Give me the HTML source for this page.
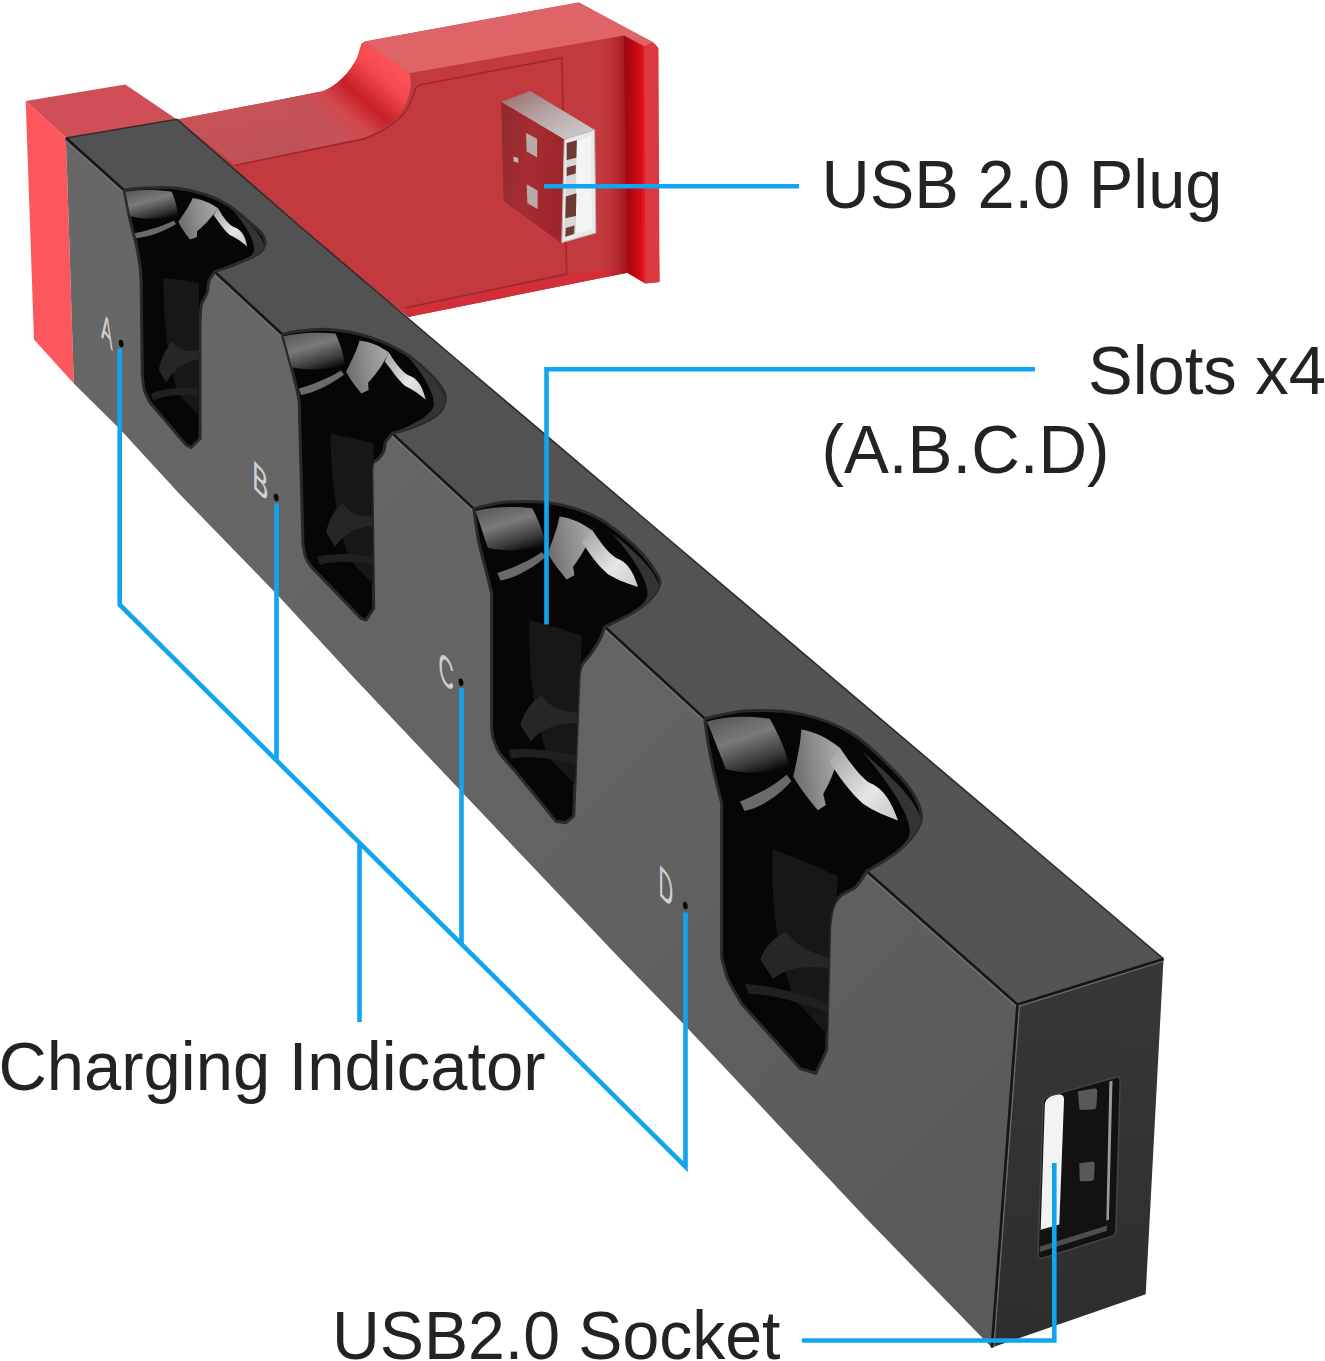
<!DOCTYPE html>
<html lang="en"><head><meta charset="utf-8"><title>4-slot charging dock diagram</title>
<style>
html,body{margin:0;padding:0;background:#fff;}
body{width:1325px;height:1361px;overflow:hidden;}
svg{display:block;}
</style></head>
<body>
<svg width="1325" height="1361" viewBox="0 0 1325 1361">
<rect width="1325" height="1361" fill="#fff"/>
<defs>
<linearGradient id="gFront" gradientUnits="userSpaceOnUse" x1="66" y1="250" x2="1000" y2="1180">
 <stop offset="0" stop-color="#676767"/><stop offset="0.55" stop-color="#636363"/><stop offset="1" stop-color="#5a5a5a"/>
</linearGradient>
<linearGradient id="gTop" gradientUnits="userSpaceOnUse" x1="100" y1="130" x2="1100" y2="990">
 <stop offset="0" stop-color="#525252"/><stop offset="1" stop-color="#545454"/>
</linearGradient>
<linearGradient id="gEnd" gradientUnits="userSpaceOnUse" x1="1090" y1="980" x2="1070" y2="1320">
 <stop offset="0" stop-color="#373737"/><stop offset="1" stop-color="#2e2e2e"/>
</linearGradient>
<linearGradient id="gSaddle" gradientUnits="userSpaceOnUse" x1="330" y1="130" x2="400" y2="50">
 <stop offset="0" stop-color="#c45257"/><stop offset="0.22" stop-color="#d2484e"/><stop offset="0.42" stop-color="#c62026"/><stop offset="0.68" stop-color="#f5474e"/><stop offset="1" stop-color="#ff5c62"/>
</linearGradient>
<linearGradient id="gDome" x1="0.2" y1="0" x2="0.7" y2="1">
 <stop offset="0" stop-color="#5a5a5a"/><stop offset="0.4" stop-color="#7a7a7a"/><stop offset="0.8" stop-color="#3a3a3a"/><stop offset="1" stop-color="#0e0e0e"/>
</linearGradient>
<linearGradient id="gMid" x1="0" y1="0.5" x2="1" y2="0.3">
 <stop offset="0" stop-color="#6c6c6c"/><stop offset="0.5" stop-color="#8e8e8e"/><stop offset="1" stop-color="#a8a8a8"/>
</linearGradient>
<linearGradient id="gPlugSide" x1="0" y1="0" x2="1" y2="0.3">
 <stop offset="0" stop-color="#8e2a2d"/><stop offset="0.5" stop-color="#a62d31"/><stop offset="1" stop-color="#9c262a"/>
</linearGradient>
<linearGradient id="gPlugTop" x1="0" y1="0" x2="1" y2="1">
 <stop offset="0" stop-color="#9a6a6a"/><stop offset="0.5" stop-color="#b8a8a8"/><stop offset="1" stop-color="#d2d2d2"/>
</linearGradient>
<linearGradient id="gPlate" x1="0" y1="0" x2="1" y2="0">
 <stop offset="0" stop-color="#9c0810"/><stop offset="0.35" stop-color="#b20810"/><stop offset="0.8" stop-color="#da0c18"/><stop offset="1" stop-color="#e6222c"/>
</linearGradient>
<linearGradient id="gLow" gradientUnits="userSpaceOnUse" x1="250" y1="105" x2="262" y2="160">
 <stop offset="0" stop-color="#c85358"/><stop offset="1" stop-color="#bf5156"/>
</linearGradient>
<linearGradient id="gShade" gradientUnits="userSpaceOnUse" x1="600" y1="0" x2="627" y2="0">
 <stop offset="0" stop-color="#c2393e" stop-opacity="0"/><stop offset="1" stop-color="#a2121a"/>
</linearGradient>
<linearGradient id="gWhite" x1="0" y1="0" x2="1" y2="1">
 <stop offset="0" stop-color="#a0a0a0"/><stop offset="0.6" stop-color="#e6e6e6"/><stop offset="1" stop-color="#c8c8c8"/>
</linearGradient>
</defs>
<polygon points="177.0,119.6 323.0,91.3 336.6,84.5 347.9,73.2 357.0,58.5 361.5,43.8 364.9,41.5 578.9,2.4 656.0,44.9 659.5,282.0 645.3,283.4 627.2,272.8 408.0,317.0 300.0,230.0 177.0,119.6" fill="#c2393e"/>
<polygon points="177.0,119.6 323.0,91.3 363.8,137.7 234.7,164.9" fill="url(#gLow)"/>
<path d="M323,91.3 C336,86 350,72 357,58.5 C360,50 361,45 364.9,41.5 L409.1,73.2 C412,80 411,92 406.8,101.5 C401,116 390,127 363.8,137.7 L310,149 L280,100 Z" fill="url(#gSaddle)"/>
<polygon points="364.9,41.5 578.9,2.4 653.0,42.0 644.5,46.5 623.8,35.5 409.1,73.2" fill="#de6468"/>
<path d="M234.7,165.5 L363.8,138.9 C386,131 401,119 409.1,106 C413,97 414,92 414.7,90.2 C416,86 419,85 422.6,84.5 L561.9,57.7 L566.7,274.1 L405.7,307.9" fill="none" stroke="#a3272f" stroke-width="1.6" stroke-linejoin="round"/>
<polygon points="405.7,309.5 566.7,275.6 627.0,264.5 627.2,272.8 408.0,317.0" fill="#d22f38"/>
<polygon points="600.0,40.0 624.5,35.5 627.2,272.8 600.0,278.5" fill="url(#gShade)"/>
<polygon points="623.8,35.5 644.5,46.5 645.3,283.4 627.2,272.8" fill="url(#gPlate)"/>
<polygon points="644.5,46.5 653.0,42.0 658.5,48.0 659.5,282.0 645.3,283.4" fill="#dc383f"/>
<polygon points="25.7,101.1 125.3,84.5 177.0,119.6 66.0,138.0" fill="#d04e55"/>
<polygon points="25.7,101.1 66.0,138.0 73.8,383.4 34.0,339.5" fill="#fd565d"/>
<polygon points="501.2,101.9 530.3,91.0 594.6,129.8 564.3,139.5" fill="url(#gPlugTop)"/>
<polygon points="501.2,101.9 564.3,139.5 560.7,242.6 503.7,201.3" fill="url(#gPlugSide)"/>
<polygon points="564.3,139.5 594.6,129.8 595.8,232.9 561.9,242.6" fill="#e9e9e9" stroke="#b9b9b9" stroke-width="1"/>
<polygon points="566.7,143.1 591.0,135.8 592.2,229.2 564.8,237.2" fill="#d8d6d6"/>
<polygon points="576.4,140.7 591.0,135.8 592.2,229.2 575.9,234.1" fill="#f4f4f4"/>
<polygon points="566.7,143.1 576.9,140.2 576.4,157.7 566.7,160.1" fill="#6e3a33"/>
<polygon points="566.7,167.4 575.9,164.9 575.7,173.4 566.7,175.9" fill="#6e3a33"/>
<polygon points="565.8,196.5 576.4,193.3 575.9,215.9 565.3,218.3" fill="#6e3a33"/>
<polygon points="565.8,228.0 574.5,225.6 574.0,234.1 565.3,236.7" fill="#6e3a33"/>
<polygon points="526.0,132.9 537.1,138.7 537.1,157.2 526.7,151.6" fill="#b9a9a8"/>
<polygon points="526.7,184.3 537.6,190.4 537.6,209.1 527.4,203.3" fill="#b9a9a8"/>
<polygon points="513.4,156.5 518.2,158.1 518.2,163.0 513.6,161.3" fill="#c9b5b4"/>
<polygon points="66.0,138.0 177.0,119.3 300.0,226.5 460.0,362.5 640.0,515.0 1023.4,840.0 1163.5,958.9 1017.5,1004.5 1012.5,1044.5 68.0,178.0" fill="url(#gTop)"/>
<polyline points="66.0,138.0 177.0,119.3 300.0,226.5 460.0,362.5 640.0,515.0 1023.4,840.0 1163.5,958.9" fill="none" stroke="#2e2e2e" stroke-width="1.6"/>
<polygon points="66.0,138.0 124.2,190.2 214.7,271.7 282.2,334.3 392.3,433.4 473.7,508.6 604.8,626.8 704.8,718.6 866.7,871.3 1017.5,1004.5 991.8,1347.6 867.2,1219.5 685.5,1026.0 620.8,959.5 461.1,791.3 355.1,679.0 276.6,594.0 180.0,494.5 119.6,428.7 73.8,383.4" fill="url(#gFront)"/>
<polygon points="1017.5,1004.5 1163.5,958.9 1145.7,1294.2 991.8,1347.6" fill="url(#gEnd)"/>
<line x1="64.6" y1="139.6" x2="122.8" y2="191.8" stroke="#787878" stroke-width="1.5" stroke-opacity="0.8"/>
<line x1="66.0" y1="138.0" x2="124.2" y2="190.2" stroke="#161616" stroke-width="2.6"/>
<line x1="213.3" y1="273.3" x2="280.8" y2="335.9" stroke="#787878" stroke-width="1.5" stroke-opacity="0.8"/>
<line x1="214.7" y1="271.7" x2="282.2" y2="334.3" stroke="#161616" stroke-width="2.6"/>
<line x1="390.9" y1="435.0" x2="472.3" y2="510.2" stroke="#787878" stroke-width="1.5" stroke-opacity="0.8"/>
<line x1="392.3" y1="433.4" x2="473.7" y2="508.6" stroke="#161616" stroke-width="2.6"/>
<line x1="603.4" y1="628.4" x2="703.4" y2="720.2" stroke="#787878" stroke-width="1.5" stroke-opacity="0.8"/>
<line x1="604.8" y1="626.8" x2="704.8" y2="718.6" stroke="#161616" stroke-width="2.6"/>
<line x1="865.3" y1="872.9" x2="1016.1" y2="1006.1" stroke="#787878" stroke-width="1.5" stroke-opacity="0.8"/>
<line x1="866.7" y1="871.3" x2="1017.5" y2="1004.5" stroke="#161616" stroke-width="2.6"/>
<line x1="1018.1" y1="1006.5" x2="1164.1" y2="960.9" stroke="#787878" stroke-width="1.5" stroke-opacity="0.8"/>
<line x1="1017.5" y1="1004.5" x2="1163.5" y2="958.9" stroke="#161616" stroke-width="2.6"/>
<line x1="1019.5" y1="1004.7" x2="993.8" y2="1347.8" stroke="#787878" stroke-width="1.5" stroke-opacity="0.8"/>
<line x1="1017.5" y1="1004.5" x2="991.8" y2="1347.6" stroke="#161616" stroke-width="2.6"/>
<clipPath id="cs0"><path d="M124.2,190.2 C127.7,189.8 136.7,188.4 145.3,188.1 C153.8,187.7 165.4,187.0 175.5,188.1 C185.5,189.2 196.9,191.8 205.7,194.7 C214.5,197.6 220.8,200.5 228.3,205.3 C235.8,210.1 245.2,218.4 250.9,223.4 C256.7,228.4 260.7,231.9 263.0,235.5 C265.3,239.0 265.6,241.5 264.8,244.5 C264.1,247.5 263.3,250.3 258.5,253.6 C253.7,256.9 243.1,261.1 235.8,264.2 C228.6,267.2 218.2,270.4 214.7,271.7 C213.8,273.2 210.2,277.5 209.0,280.8 C207.8,284.0 208.3,288.3 207.5,291.3 C206.7,294.3 205.2,296.5 204.2,298.9 C203.1,301.3 201.8,301.1 201.1,305.7 C200.4,310.2 200.1,322.6 199.9,326.0 L200.1,438.5 L191.1,447.5 L186.0,444.9 L150.0,402.5 C149.0,400.4 145.6,394.4 144.3,389.6 C143.0,384.9 142.6,376.8 142.3,374.2 L141.1,280.8 C140.9,278.2 140.8,271.7 140.0,265.7 C139.2,259.6 137.9,252.1 136.2,244.5 C134.6,237.0 132.2,229.4 130.2,220.4 C128.2,211.3 125.2,195.2 124.2,190.2 Z"/></clipPath>
<path d="M124.2,190.2 C127.7,189.8 136.7,188.4 145.3,188.1 C153.8,187.7 165.4,187.0 175.5,188.1 C185.5,189.2 196.9,191.8 205.7,194.7 C214.5,197.6 220.8,200.5 228.3,205.3 C235.8,210.1 245.2,218.4 250.9,223.4 C256.7,228.4 260.7,231.9 263.0,235.5 C265.3,239.0 265.6,241.5 264.8,244.5 C264.1,247.5 263.3,250.3 258.5,253.6 C253.7,256.9 243.1,261.1 235.8,264.2 C228.6,267.2 218.2,270.4 214.7,271.7 C213.8,273.2 210.2,277.5 209.0,280.8 C207.8,284.0 208.3,288.3 207.5,291.3 C206.7,294.3 205.2,296.5 204.2,298.9 C203.1,301.3 201.8,301.1 201.1,305.7 C200.4,310.2 200.1,322.6 199.9,326.0 L200.1,438.5 L191.1,447.5 L186.0,444.9 L150.0,402.5 C149.0,400.4 145.6,394.4 144.3,389.6 C143.0,384.9 142.6,376.8 142.3,374.2 L141.1,280.8 C140.9,278.2 140.8,271.7 140.0,265.7 C139.2,259.6 137.9,252.1 136.2,244.5 C134.6,237.0 132.2,229.4 130.2,220.4 C128.2,211.3 125.2,195.2 124.2,190.2 Z" fill="#060606" stroke="#2a2a2a" stroke-width="3" stroke-linejoin="round"/>
<g clip-path="url(#cs0)">
<path d="M 163.4,277.9 C 163.6,320.8 166.8,356.1 177.8,393.0 L 197.8,414.5 L 199.2,283.3 L 184.3,280.2 Z" fill="#171717"/>
<path d="M 232.9,210.2 C 249.9,223.7 266.7,238.2 263.7,249.8 C 260.9,259.3 245.8,265.0 214.7,271.7 C 237.3,264.7 251.2,258.9 253.8,251.5 C 255.7,244.1 249.3,229.0 232.9,210.2 Z" fill="#343434"/>
<path d="M 125.3,191.8 C 137.6,189.7 155.9,189.4 171.7,191.7 C 175.5,200.3 177.7,208.9 177.4,215.8 C 165.1,219.3 146.8,220.2 130.4,216.3 C 128.5,207.9 127.4,200.4 125.3,191.8 Z" fill="url(#gDome)"/>
<path d="M 134.8,233.2 C 145.7,231.0 162.0,226.4 173.7,220.7 L 176.2,224.0 C 163.9,231.3 148.8,237.0 136.2,238.3 Z" fill="#6a6a6a"/>
<path d="M 192.8,197.9 C 202.4,199.3 210.5,202.9 217.6,208.1 C 214.2,214.7 206.0,224.0 197.0,231.3 L 197.0,236.9 L 190.1,239.5 C 184.5,232.6 180.3,226.1 178.3,221.7 C 184.0,213.5 189.6,205.2 192.8,197.9 Z" fill="url(#gMid)"/>
<path d="M 217.6,207.8 C 221.1,213.4 226.2,222.7 233.1,226.7 C 240.2,229.1 245.2,234.1 247.0,246.4 C 242.0,242.0 236.8,238.6 229.9,235.1 C 223.7,230.0 218.5,221.3 213.6,215.2 Z" fill="url(#gWhite)"/>
<path d="M 158.8,370.2 C 161.1,356.8 168.7,344.0 173.0,341.1 C 177.1,350.2 187.8,352.5 198.5,350.1 L 198.4,359.6 C 187.7,360.9 174.8,367.1 166.2,382.4 Z" fill="#262626"/>
<path d="M 151.1,393.7 C 168.2,387.0 185.3,387.4 198.1,388.3 L 198.0,395.4 C 183.1,394.8 168.2,394.1 153.2,400.6 Z" fill="#202020"/>
</g>
<clipPath id="cs1"><path d="M282.2,334.3 C284.7,333.8 290.2,332.1 297.2,331.3 C304.2,330.4 315.3,329.1 324.3,329.2 C333.4,329.4 342.5,330.4 351.5,332.2 C360.6,334.1 369.6,336.8 378.7,340.4 C387.7,344.0 397.9,349.0 405.9,354.0 C413.8,358.9 420.6,365.1 426.2,370.3 C431.9,375.5 436.6,380.9 439.8,385.2 C443.0,389.5 444.8,392.2 445.2,396.1 C445.7,399.9 444.6,404.7 442.5,408.3 C440.5,411.9 438.0,414.6 433.0,417.8 C428.0,421.0 419.4,424.7 412.6,427.3 C405.9,429.9 395.7,432.4 392.3,433.4 C391.1,434.9 386.8,439.4 385.5,442.3 C384.1,445.1 385.2,447.7 384.1,450.4 C383.0,453.1 380.5,456.5 378.7,458.6 C376.9,460.6 374.4,460.8 373.2,462.6 C372.1,464.5 372.1,468.3 371.9,469.4 L373.7,608.5 L366.0,620.1 L360.8,618.3 L310.7,566.1 C309.8,564.6 306.8,560.7 305.6,557.1 C304.3,553.4 303.4,546.4 303.0,544.2 L299.2,401.5 C298.9,399.7 298.2,395.2 297.2,390.6 C296.2,386.1 294.7,380.5 293.1,374.3 C291.5,368.2 289.5,360.6 287.7,354.0 C285.8,347.3 283.1,337.5 282.2,334.3 Z"/></clipPath>
<path d="M282.2,334.3 C284.7,333.8 290.2,332.1 297.2,331.3 C304.2,330.4 315.3,329.1 324.3,329.2 C333.4,329.4 342.5,330.4 351.5,332.2 C360.6,334.1 369.6,336.8 378.7,340.4 C387.7,344.0 397.9,349.0 405.9,354.0 C413.8,358.9 420.6,365.1 426.2,370.3 C431.9,375.5 436.6,380.9 439.8,385.2 C443.0,389.5 444.8,392.2 445.2,396.1 C445.7,399.9 444.6,404.7 442.5,408.3 C440.5,411.9 438.0,414.6 433.0,417.8 C428.0,421.0 419.4,424.7 412.6,427.3 C405.9,429.9 395.7,432.4 392.3,433.4 C391.1,434.9 386.8,439.4 385.5,442.3 C384.1,445.1 385.2,447.7 384.1,450.4 C383.0,453.1 380.5,456.5 378.7,458.6 C376.9,460.6 374.4,460.8 373.2,462.6 C372.1,464.5 372.1,468.3 371.9,469.4 L373.7,608.5 L366.0,620.1 L360.8,618.3 L310.7,566.1 C309.8,564.6 306.8,560.7 305.6,557.1 C304.3,553.4 303.4,546.4 303.0,544.2 L299.2,401.5 C298.9,399.7 298.2,395.2 297.2,390.6 C296.2,386.1 294.7,380.5 293.1,374.3 C291.5,368.2 289.5,360.6 287.7,354.0 C285.8,347.3 283.1,337.5 282.2,334.3 Z" fill="#060606" stroke="#2a2a2a" stroke-width="3" stroke-linejoin="round"/>
<g clip-path="url(#cs1)">
<path d="M 330.5,433.7 C 331.3,479.9 335.6,518.5 349.3,559.6 L 373.7,585.3 L 373.7,443.9 L 355.7,438.8 Z" fill="#171717"/>
<path d="M 405.8,354.0 C 426.2,370.3 446.6,387.9 444.6,402.9 C 442.5,415.1 426.3,423.2 392.3,433.4 C 416.7,423.2 431.7,415.1 433.7,405.6 C 435.1,396.1 426.2,377.1 405.8,354.0 Z" fill="#343434"/>
<path d="M 283.6,336.3 C 297.1,332.9 317.5,331.6 335.4,333.6 C 340.6,344.5 344.0,355.3 344.4,364.2 C 331.1,369.2 310.8,371.4 292.0,367.3 C 289.0,356.7 287.0,347.2 283.6,336.3 Z" fill="url(#gDome)"/>
<path d="M 298.8,388.6 C 310.8,385.2 328.4,378.4 340.9,370.5 L 344.0,374.6 C 331.1,384.5 314.8,392.7 301.0,395.0 Z" fill="#6a6a6a"/>
<path d="M 359.6,340.4 C 370.5,341.8 380.0,345.8 388.4,352.1 C 385.5,360.8 377.3,373.0 368.1,382.8 L 368.6,390.0 L 361.3,393.6 C 354.2,385.2 348.8,377.1 346.1,371.6 C 351.5,360.8 356.9,349.9 359.6,340.4 Z" fill="url(#gMid)"/>
<path d="M 388.4,351.8 C 392.9,358.7 399.7,370.3 407.9,375.0 C 416.0,377.7 422.1,383.9 425.6,399.5 C 419.4,394.0 413.3,390.0 405.2,385.9 C 397.7,379.8 390.9,368.9 384.8,361.5 Z" fill="url(#gWhite)"/>
<path d="M 326.1,532.6 C 328.7,518.5 337.7,505.6 342.8,503.1 C 348.0,513.3 360.8,517.2 373.7,515.9 L 373.7,526.2 C 360.8,526.2 345.4,531.3 335.1,546.8 Z" fill="#262626"/>
<path d="M 317.1,557.1 C 337.7,551.9 358.3,554.5 373.7,557.0 L 373.7,564.7 C 355.7,562.2 337.7,559.6 319.7,564.8 Z" fill="#202020"/>
</g>
<clipPath id="cs2"><path d="M473.7,508.6 C479.3,507.5 493.8,503.0 507.1,502.1 C520.4,501.3 538.4,500.8 553.4,503.4 C568.4,506.0 583.4,510.3 597.1,517.6 C610.8,524.8 625.8,537.9 635.7,547.1 C645.5,556.3 652.3,566.4 656.2,572.8 C660.2,579.3 660.6,581.0 659.3,585.7 C658.0,590.4 653.3,596.4 648.5,601.1 C643.7,605.8 637.8,609.7 630.5,614.0 C623.2,618.2 609.1,624.7 604.8,626.8 C604.0,629.0 602.0,635.2 599.7,639.7 C597.3,644.2 593.7,649.5 590.7,653.8 C587.7,658.1 583.6,661.7 581.7,665.4 C579.7,669.0 579.5,673.9 579.1,675.7 L573.7,816.2 L566.0,822.7 L556.0,821.4 L514.8,770.8 C512.3,767.8 503.1,758.3 499.4,752.8 C495.8,747.2 494.3,741.6 493.0,737.4 C491.7,733.1 491.9,728.8 491.7,727.1 L491.7,593.4 C490.8,590.0 488.7,581.4 486.6,572.8 C484.4,564.3 481.0,552.7 478.8,542.0 C476.7,531.3 474.6,514.1 473.7,508.6 Z"/></clipPath>
<path d="M473.7,508.6 C479.3,507.5 493.8,503.0 507.1,502.1 C520.4,501.3 538.4,500.8 553.4,503.4 C568.4,506.0 583.4,510.3 597.1,517.6 C610.8,524.8 625.8,537.9 635.7,547.1 C645.5,556.3 652.3,566.4 656.2,572.8 C660.2,579.3 660.6,581.0 659.3,585.7 C658.0,590.4 653.3,596.4 648.5,601.1 C643.7,605.8 637.8,609.7 630.5,614.0 C623.2,618.2 609.1,624.7 604.8,626.8 C604.0,629.0 602.0,635.2 599.7,639.7 C597.3,644.2 593.7,649.5 590.7,653.8 C587.7,658.1 583.6,661.7 581.7,665.4 C579.7,669.0 579.5,673.9 579.1,675.7 L573.7,816.2 L566.0,822.7 L556.0,821.4 L514.8,770.8 C512.3,767.8 503.1,758.3 499.4,752.8 C495.8,747.2 494.3,741.6 493.0,737.4 C491.7,733.1 491.9,728.8 491.7,727.1 L491.7,593.4 C490.8,590.0 488.7,581.4 486.6,572.8 C484.4,564.3 481.0,552.7 478.8,542.0 C476.7,531.3 474.6,514.1 473.7,508.6 Z" fill="#060606" stroke="#2a2a2a" stroke-width="3" stroke-linejoin="round"/>
<g clip-path="url(#cs2)">
<path d="M 529.2,620.0 C 528.5,669.4 532.5,711.0 547.7,756.4 L 576.7,786.6 L 581.7,635.9 L 559.9,628.4 Z" fill="#171717"/>
<path d="M 611.7,533.0 C 635.8,552.4 660.0,573.5 659.2,591.1 C 658.2,605.6 641.1,615.1 604.8,626.8 C 630.7,615.0 646.3,605.5 647.6,594.2 C 648.1,583.0 636.5,560.5 611.7,533.0 Z" fill="#343434"/>
<path d="M 475.4,511.0 C 490.0,507.1 512.3,505.7 532.2,508.3 C 539.0,521.2 543.8,534.0 545.2,544.5 C 531.0,550.3 508.8,552.7 487.8,547.7 C 483.4,535.2 480.2,523.9 475.4,511.0 Z" fill="url(#gDome)"/>
<path d="M 497.4,573.0 C 510.2,569.1 529.0,561.2 541.9,552.0 L 545.8,556.8 C 532.6,568.4 515.5,577.9 500.5,580.5 Z" fill="#6a6a6a"/>
<path d="M 559.5,516.5 C 571.6,518.2 582.5,523.1 592.4,530.6 C 590.0,540.8 582.2,555.2 573.1,566.7 L 574.4,575.2 L 566.7,579.5 C 558.1,569.5 551.3,559.8 547.7,553.3 C 552.6,540.5 557.5,527.7 559.5,516.5 Z" fill="url(#gMid)"/>
<path d="M 592.3,530.3 C 598.0,538.5 606.6,552.2 616.1,557.9 C 625.3,561.2 632.7,568.5 638.0,587.0 C 628.7,583.7 618.0,580.4 607.7,573.9 C 598.1,565.8 589.6,554.5 581.8,541.6 Z" fill="url(#gWhite)"/>
<path d="M 520.4,725.0 C 524.0,710.2 535.5,697.6 541.8,695.4 C 547.8,707.0 563.4,712.5 579.1,712.6 L 578.8,723.6 C 563.0,722.1 544.0,725.8 530.9,741.1 Z" fill="#262626"/>
<path d="M 508.5,750.0 C 533.8,746.9 558.9,752.0 577.7,756.5 L 577.4,764.7 C 555.5,759.9 533.5,755.1 511.4,758.5 Z" fill="#202020"/>
</g>
<clipPath id="cs3"><path d="M704.8,718.6 C712.0,717.3 732.0,711.6 748.0,710.8 C763.9,710.1 783.4,710.3 800.4,713.9 C817.4,717.5 835.4,724.2 849.8,732.4 C864.2,740.7 876.5,753.5 886.8,763.3 C897.1,773.1 905.7,782.3 911.5,791.1 C917.2,799.8 920.8,808.5 921.3,815.7 C921.8,822.9 918.8,828.1 914.5,834.2 C910.3,840.4 904.0,846.6 896.0,852.7 C888.1,858.9 871.6,868.2 866.7,871.3 C864.9,873.8 860.3,882.6 855.9,886.7 C851.6,890.8 844.4,892.3 840.5,895.9 C836.7,899.5 834.6,903.1 832.8,908.3 C831.0,913.4 830.2,923.7 829.7,926.8 L826.6,1050.2 L815.8,1073.3 L800.4,1068.7 L741.8,1003.9 C739.5,999.8 731.3,986.9 727.9,979.2 C724.6,971.5 722.8,961.2 721.7,957.6 L721.7,803.4 C720.5,798.3 716.3,782.8 714.0,772.5 C711.7,762.3 709.4,750.7 707.9,741.7 C706.3,732.7 705.3,722.4 704.8,718.6 Z"/></clipPath>
<path d="M704.8,718.6 C712.0,717.3 732.0,711.6 748.0,710.8 C763.9,710.1 783.4,710.3 800.4,713.9 C817.4,717.5 835.4,724.2 849.8,732.4 C864.2,740.7 876.5,753.5 886.8,763.3 C897.1,773.1 905.7,782.3 911.5,791.1 C917.2,799.8 920.8,808.5 921.3,815.7 C921.8,822.9 918.8,828.1 914.5,834.2 C910.3,840.4 904.0,846.6 896.0,852.7 C888.1,858.9 871.6,868.2 866.7,871.3 C864.9,873.8 860.3,882.6 855.9,886.7 C851.6,890.8 844.4,892.3 840.5,895.9 C836.7,899.5 834.6,903.1 832.8,908.3 C831.0,913.4 830.2,923.7 829.7,926.8 L826.6,1050.2 L815.8,1073.3 L800.4,1068.7 L741.8,1003.9 C739.5,999.8 731.3,986.9 727.9,979.2 C724.6,971.5 722.8,961.2 721.7,957.6 L721.7,803.4 C720.5,798.3 716.3,782.8 714.0,772.5 C711.7,762.3 709.4,750.7 707.9,741.7 C706.3,732.7 705.3,722.4 704.8,718.6 Z" fill="#060606" stroke="#2a2a2a" stroke-width="3" stroke-linejoin="round"/>
<g clip-path="url(#cs3)">
<path d="M 772.6,849.0 C 771.1,901.7 775.5,947.1 793.8,998.7 L 829.6,1036.8 L 837.8,876.4 L 810.6,864.0 Z" fill="#171717"/>
<path d="M 861.6,751.0 C 891.0,776.2 920.8,803.4 922.4,826.0 C 923.2,844.5 905.5,856.5 866.7,871.3 C 893.8,856.4 909.9,844.3 909.8,829.9 C 908.9,815.5 892.8,786.5 861.6,751.0 Z" fill="#343434"/>
<path d="M 707.0,721.7 C 722.7,716.8 747.3,715.2 769.8,718.7 C 779.1,735.3 786.3,751.8 789.2,765.2 C 774.2,772.6 749.9,775.4 725.8,768.9 C 719.3,752.7 714.2,738.3 707.0,721.7 Z" fill="url(#gDome)"/>
<path d="M 740.0,801.4 C 753.7,796.5 773.4,786.5 786.6,774.8 L 791.5,781.1 C 778.5,795.9 760.7,807.9 744.4,811.1 Z" fill="#6a6a6a"/>
<path d="M 801.3,729.5 C 815.0,731.8 827.7,738.1 839.7,747.8 C 838.5,760.9 831.8,779.3 823.2,793.9 L 825.8,804.9 L 817.9,810.3 C 806.9,797.4 798.0,784.9 793.2,776.6 C 796.9,760.2 800.6,743.8 801.3,729.5 Z" fill="url(#gMid)"/>
<path d="M 839.7,747.4 C 847.1,758.0 858.5,775.6 869.8,783.0 C 880.5,787.3 889.7,796.7 898.1,820.5 C 887.4,816.2 875.0,811.9 862.7,803.4 C 850.9,793.0 840.0,778.4 829.5,761.8 Z" fill="url(#gWhite)"/>
<path d="M 760.2,959.6 C 764.9,944.5 779.4,933.2 787.3,932.2 C 794.6,945.7 813.9,954.8 833.6,958.1 L 833.0,969.7 C 813.4,965.0 789.6,965.2 773.1,978.9 Z" fill="#262626"/>
<path d="M 745.0,984.0 C 776.7,985.7 807.9,996.1 831.2,1004.7 L 830.8,1013.4 C 803.5,1003.9 776.2,994.5 748.5,993.7 Z" fill="#202020"/>
</g>
<path d="M 1043.1,1101.7 C 1043.6,1098.5 1045.6,1097.2 1048.8,1096.1 L 1115.9,1077.2 C 1118.6,1076.7 1120.2,1077.8 1120.2,1080.7 L 1115.9,1231.1 C 1115.7,1234.0 1114.8,1235.3 1112.2,1236.2 L 1042.3,1258.2 C 1039.4,1259.0 1037.8,1257.7 1038.0,1255.0 Z" fill="#121212" stroke="#444444" stroke-width="1.5" stroke-linejoin="round"/>
<polygon points="1039.9,1246.4 1107.0,1225.4 1106.7,1231.1 1039.6,1252.1" fill="#4e4e4e"/>
<polygon points="1109.4,1081.5 1112.5,1080.7 1108.9,1219.7 1106.3,1220.5" fill="#9a9a9a"/>
<path d="M 1044.8,1105.0 C 1045.2,1098.5 1050.4,1095.6 1058.5,1094.6 C 1062.5,1094.5 1064.2,1096.1 1064.0,1100.1 L 1059.3,1224.6 L 1040.7,1229.8 Z" fill="#f3f3f3"/>
<path d="M 1077.9,1091.2 L 1094.1,1088.5 C 1096.5,1088.2 1097.3,1089.6 1097.3,1091.2 L 1096.5,1105.8 C 1096.3,1108.2 1095.4,1109.2 1093.3,1109.5 L 1079.5,1110.1 Z" fill="#585858"/>
<path d="M 1079.2,1163.2 L 1092.4,1161.5 C 1094.1,1161.4 1094.7,1162.4 1094.7,1164.0 L 1094.1,1177.7 C 1093.9,1179.6 1093.1,1180.6 1091.6,1180.9 L 1079.8,1181.3 Z" fill="#585858"/>
<text transform="matrix(0.450,0.570,0,1,101.3,336.7)" font-family="Liberation Sans, sans-serif" font-size="38.0" fill="#dcdcdc" stroke="#dcdcdc" stroke-width="0.6" fill-opacity="0.92" stroke-opacity="0.6">A</text>
<text transform="matrix(0.600,0.620,0,1,252.3,486.5)" font-family="Liberation Sans, sans-serif" font-size="40.0" fill="#dcdcdc" stroke="#dcdcdc" stroke-width="0.6" fill-opacity="0.92" stroke-opacity="0.6">B</text>
<text transform="matrix(0.520,0.550,0,1,438.5,677.5)" font-family="Liberation Sans, sans-serif" font-size="41.0" fill="#dcdcdc" stroke="#dcdcdc" stroke-width="0.6" fill-opacity="0.92" stroke-opacity="0.6">C</text>
<text transform="matrix(0.460,0.500,0,1,658.5,894.0)" font-family="Liberation Sans, sans-serif" font-size="44.0" fill="#dcdcdc" stroke="#dcdcdc" stroke-width="0.6" fill-opacity="0.92" stroke-opacity="0.6">D</text>
<ellipse cx="121.2" cy="343.5" rx="2.3" ry="3.9" fill="#0a0a0a" transform="rotate(-12 121.2 343.5)"/>
<ellipse cx="276.2" cy="497.5" rx="2.3" ry="3.9" fill="#0a0a0a" transform="rotate(-12 276.2 497.5)"/>
<ellipse cx="461.0" cy="682.3" rx="2.3" ry="3.9" fill="#0a0a0a" transform="rotate(-12 461.0 682.3)"/>
<ellipse cx="685.3" cy="905.6" rx="2.3" ry="3.9" fill="#0a0a0a" transform="rotate(-12 685.3 905.6)"/>
<polyline points="544.0,186.3 799.0,186.3" fill="none" stroke="#10a5ee" stroke-width="4.6" stroke-linejoin="miter"/>
<polyline points="1035.0,369.3 546.5,369.3 546.5,624.5" fill="none" stroke="#10a5ee" stroke-width="4.6" stroke-linejoin="miter"/>
<polyline points="119.7,348.6 119.7,604.7 685.5,1166.6 685.5,912.5" fill="none" stroke="#10a5ee" stroke-width="4.6" stroke-linejoin="miter"/>
<polyline points="276.5,503.2 276.5,760.0" fill="none" stroke="#10a5ee" stroke-width="4.6" stroke-linejoin="miter"/>
<polyline points="461.5,688.0 461.5,944.0" fill="none" stroke="#10a5ee" stroke-width="4.6" stroke-linejoin="miter"/>
<polyline points="359.5,844.0 359.5,1022.0" fill="none" stroke="#10a5ee" stroke-width="4.6" stroke-linejoin="miter"/>
<polyline points="802.0,1340.5 1054.3,1340.5 1054.3,1163.0" fill="none" stroke="#10a5ee" stroke-width="4.6" stroke-linejoin="miter"/>
<text x="821.5" y="208.1" font-family="Liberation Sans, sans-serif" font-size="69.0" fill="#232323" textLength="401.0" lengthAdjust="spacingAndGlyphs">USB 2.0 Plug</text>
<text x="1088.0" y="393.7" font-family="Liberation Sans, sans-serif" font-size="69.0" fill="#232323" textLength="238.0" lengthAdjust="spacingAndGlyphs">Slots x4</text>
<text x="821.5" y="472.5" font-family="Liberation Sans, sans-serif" font-size="69.0" fill="#232323" textLength="288.0" lengthAdjust="spacingAndGlyphs">(A.B.C.D)</text>
<text x="-1.5" y="1089.7" font-family="Liberation Sans, sans-serif" font-size="69.0" fill="#232323" textLength="547.0" lengthAdjust="spacingAndGlyphs">Charging Indicator</text>
<text x="332.0" y="1359.2" font-family="Liberation Sans, sans-serif" font-size="69.0" fill="#232323" textLength="448.5" lengthAdjust="spacingAndGlyphs">USB2.0 Socket</text>
</svg>
</body></html>
